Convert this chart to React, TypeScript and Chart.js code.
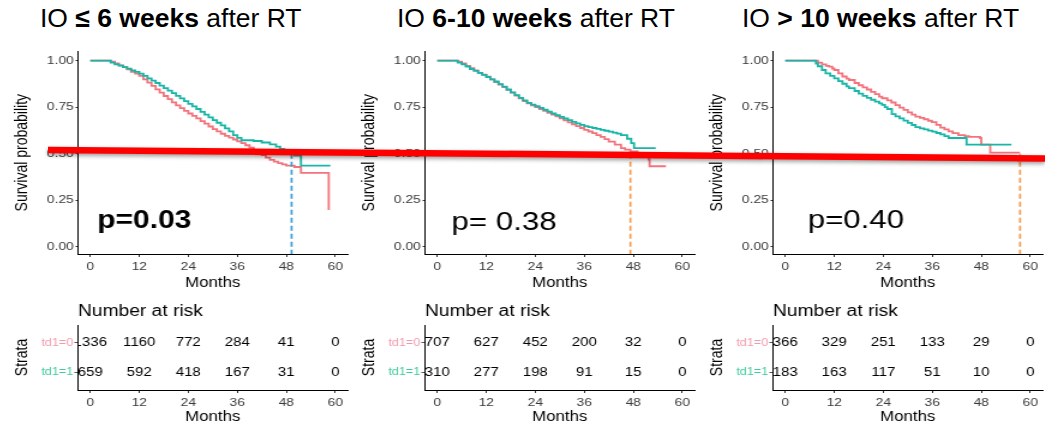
import { useEffect, useRef } from "react";
import { Chart, registerables } from "chart.js";

Chart.register(...registerables);

// ---------------- data ----------------
const monthTicks = [0, 12, 24, 36, 48, 60];
const survivalTicks = [0, 0.25, 0.5, 0.75, 1];
const strataLabels = ["td1=0", "td1=1"];

// IO ≤ 6 weeks after RT
const earlyMonths0 = [0, 4, 5, 6, 7, 8, 9, 10, 11, 12, 13, 14, 15, 16, 17, 18, 19, 20, 21, 22, 23, 24, 25, 26, 27, 28, 29, 30, 31, 32, 33, 34, 35, 36, 37, 38, 39, 40, 41, 42, 43, 44, 45, 46, 47, 48, 50, 51.6, 58.4];
const earlySurv0 = [1, 1, 0.995, 0.985, 0.975, 0.965, 0.953, 0.94, 0.93, 0.918, 0.9, 0.882, 0.864, 0.846, 0.828, 0.81, 0.793, 0.776, 0.76, 0.745, 0.73, 0.716, 0.703, 0.69, 0.675, 0.661, 0.646, 0.632, 0.62, 0.607, 0.596, 0.586, 0.576, 0.566, 0.556, 0.545, 0.532, 0.518, 0.505, 0.492, 0.479, 0.466, 0.457, 0.449, 0.442, 0.436, 0.428, 0.396, 0.197];
const earlyMonths1 = [0, 4, 5, 6, 7, 8, 9, 10, 11, 12, 13, 14, 15, 16, 17, 18, 19, 20, 21, 22, 23, 24, 25, 26, 27, 28, 29, 30, 31, 32, 33, 34, 35, 36, 37, 40, 42, 44, 45.5, 46.5, 47.5, 48.5, 50, 51.6, 58.8];
const earlySurv1 = [1, 1, 0.99, 0.98, 0.973, 0.965, 0.957, 0.948, 0.94, 0.93, 0.918, 0.905, 0.893, 0.88, 0.866, 0.852, 0.839, 0.826, 0.811, 0.797, 0.782, 0.768, 0.754, 0.74, 0.725, 0.71, 0.695, 0.68, 0.666, 0.652, 0.636, 0.62, 0.6, 0.585, 0.572, 0.568, 0.56, 0.55, 0.538, 0.525, 0.51, 0.498, 0.49, 0.436, 0.436];
const earlyRisk0 = [1336, 1160, 772, 284, 41, 0];
const earlyRisk1 = [659, 592, 418, 167, 31, 0];

// IO 6-10 weeks after RT
const midMonths0 = [0, 4.5, 5, 6, 7, 8, 9, 10, 11, 12, 13, 14, 15, 16, 17, 18, 19, 20, 21, 22, 23, 24, 25, 26, 27, 28, 29, 30, 31, 32, 33, 34, 35, 36, 37, 38, 39, 40, 41, 42, 43.5, 45, 46, 47.3, 49, 50, 51.8, 52, 56];
const midSurv0 = [1, 1, 0.995, 0.985, 0.972, 0.96, 0.948, 0.935, 0.925, 0.914, 0.9, 0.885, 0.872, 0.858, 0.843, 0.828, 0.812, 0.797, 0.783, 0.77, 0.76, 0.75, 0.74, 0.73, 0.72, 0.71, 0.7, 0.69, 0.679, 0.668, 0.658, 0.648, 0.638, 0.628, 0.619, 0.61, 0.6, 0.59, 0.578, 0.565, 0.548, 0.53, 0.522, 0.512, 0.495, 0.485, 0.468, 0.432, 0.432];
const midMonths1 = [0, 4, 5, 6, 7, 8, 9, 10, 11, 12, 13, 14, 15, 16, 17, 18, 19, 20, 21, 22, 23, 24, 25, 26, 27, 28, 29, 30, 31, 32, 33, 34, 35, 36, 37, 38, 39, 40, 41, 42, 43, 44, 45, 46.5, 47.5, 48.2, 53.5];
const midSurv1 = [1, 1, 0.99, 0.98, 0.968, 0.955, 0.945, 0.935, 0.924, 0.912, 0.9, 0.888, 0.874, 0.86, 0.845, 0.83, 0.815, 0.8, 0.786, 0.773, 0.764, 0.755, 0.746, 0.736, 0.726, 0.716, 0.707, 0.698, 0.689, 0.68, 0.671, 0.663, 0.655, 0.648, 0.643, 0.638, 0.633, 0.628, 0.623, 0.618, 0.613, 0.608, 0.6, 0.58, 0.557, 0.53, 0.53];
const midRisk0 = [707, 627, 452, 200, 32, 0];
const midRisk1 = [310, 277, 198, 91, 15, 0];

// IO > 10 weeks after RT
const lateMonths0 = [0, 6.7, 8, 9, 10, 10.7, 11.5, 12, 13, 14, 15, 15.6, 17, 18, 19, 20, 21, 22, 23, 23.7, 25, 26, 27, 28, 29, 30, 31, 31.9, 33, 34, 35, 35.9, 37, 38, 39, 40, 41, 42.4, 44, 45, 47.7, 48, 50.2, 57.5];
const lateSurv0 = [1, 1, 0.99, 0.98, 0.972, 0.968, 0.958, 0.95, 0.932, 0.915, 0.903, 0.896, 0.88, 0.868, 0.856, 0.845, 0.832, 0.82, 0.807, 0.798, 0.786, 0.775, 0.761, 0.748, 0.735, 0.722, 0.71, 0.699, 0.692, 0.685, 0.677, 0.67, 0.655, 0.64, 0.63, 0.62, 0.61, 0.6, 0.594, 0.59, 0.584, 0.548, 0.505, 0.505];
const lateMonths1 = [0, 6.7, 7.5, 8, 9, 9.9, 11, 12, 13, 14, 15, 15.6, 17, 18, 19, 20, 21, 22, 23, 23.7, 24.4, 25, 26.1, 27, 28, 29, 30, 31, 31.9, 33, 34, 35, 36, 37, 38, 39, 40, 44.4, 55.4];
const lateSurv1 = [1, 1, 0.985, 0.97, 0.95, 0.932, 0.918, 0.905, 0.89, 0.876, 0.862, 0.852, 0.837, 0.823, 0.811, 0.8, 0.79, 0.78, 0.77, 0.762, 0.75, 0.74, 0.712, 0.7, 0.69, 0.678, 0.665, 0.654, 0.643, 0.636, 0.63, 0.624, 0.618, 0.611, 0.604, 0.594, 0.584, 0.548, 0.548];
const lateRisk0 = [366, 329, 251, 133, 29, 0];
const lateRisk1 = [183, 163, 117, 51, 10, 0];

const medianMonths = [49.3, 47.3, 57.5];
const pValueLabels = ["p=0.03", "p= 0.38", "p=0.40"];

// ---------------- styling / layout ----------------
const FONT = "'Liberation Sans', Arial, Helvetica, sans-serif";
const RED = "#F3737C";
const TEAL = "#17B6A7";
const RED_LABEL = "#F49AAE";
const TEAL_LABEL = "#3FCB9C";
const TICK_TEXT = "#3A3A3A";

const SX = 1.2; // horizontal stretch applied to the plot canvases
const GUTTER = 75; // space left of each y axis (final px)
const CANVAS_W = 350; // final width of each plot canvas
const PLOT_W = 269.5; // final width of each plot panel
const INNER_W = Math.round(CANVAS_W / SX);
const Y_AXIS_W = GUTTER / SX;
const RIGHT_PAD = INNER_W - Y_AXIS_W - PLOT_W / SX;

const X_MIN = -3;
const X_MAX = 63;
const Y_MIN = -0.04;
const Y_MAX = 1.05;

const KM_TOP = 40;
const KM_H = 260;
const KM_PLOT_TOP = 51.4;
const KM_PLOT_BOTTOM = 254;

const RISK_TOP = 295;
const RISK_H = 132;
const RISK_PLOT_TOP = 325;
const RISK_PLOT_BOTTOM = 390;

const panels = [
  {
    title: ["IO ", "≤ 6 weeks", " after RT"],
    titleLeft: 40,
    axisX: 78,
    months0: earlyMonths0, surv0: earlySurv0,
    months1: earlyMonths1, surv1: earlySurv1,
    risk0: earlyRisk0, risk1: earlyRisk1,
    median: medianMonths[0], dashColor: "#3D9ED2",
    pText: pValueLabels[0], pBold: true, pSize: 25, pAt: { x: 1.7, y: 0.099 },
  },
  {
    title: ["IO ", "6-10 weeks", " after RT"],
    titleLeft: 397,
    axisX: 425,
    months0: midMonths0, surv0: midSurv0,
    months1: midMonths1, surv1: midSurv1,
    risk0: midRisk0, risk1: midRisk1,
    median: medianMonths[1], dashColor: "#F39A48",
    pText: pValueLabels[1], pBold: false, pSize: 26, pAt: { x: 3.5, y: 0.09 },
  },
  {
    title: ["IO ", "> 10 weeks", " after RT"],
    titleLeft: 742,
    axisX: 773,
    months0: lateMonths0, surv0: lateSurv0,
    months1: lateMonths1, surv1: lateSurv1,
    risk0: lateRisk0, risk1: lateRisk1,
    median: medianMonths[2], dashColor: "#F39A48",
    pText: pValueLabels[2], pBold: false, pSize: 26, pAt: { x: 5.5, y: 0.1 },
  },
];

Chart.defaults.font.family = FONT;

type Panel = (typeof panels)[number];

const toPoints = (m: number[], s: number[]) => m.map((t, i) => ({ x: t, y: s[i] }));

function monthScale(height: number, tickPad: number, titleBottom: number) {
  return {
    type: "linear" as const,
    min: X_MIN,
    max: X_MAX,
    afterBuildTicks: (s: any) => {
      s.ticks = monthTicks.map((v) => ({ value: v }));
    },
    afterFit: (s: any) => {
      s.height = height;
    },
    grid: { display: true, drawOnChartArea: false, drawTicks: true, tickLength: 3, color: "#333" },
    border: { display: true, color: "#000", width: 1 },
    ticks: { color: TICK_TEXT, font: { size: 11.5 }, padding: tickPad, maxRotation: 0, autoSkip: false },
    title: { display: true, text: "Months", color: "#000", font: { size: 14 }, padding: { top: 0, bottom: titleBottom } },
  };
}

function kmConfig(p: Panel): any {
  const pLabel = {
    id: "pValue",
    afterDatasetsDraw(chart: any) {
      const { ctx, scales } = chart;
      ctx.save();
      ctx.font = `${p.pBold ? "bold " : ""}${p.pSize}px ${FONT}`;
      ctx.fillStyle = "#000";
      ctx.textAlign = "left";
      ctx.textBaseline = "alphabetic";
      ctx.fillText(p.pText, scales.x.getPixelForValue(p.pAt.x), scales.y.getPixelForValue(p.pAt.y));
      ctx.restore();
    },
  };
  return {
    type: "line",
    data: {
      datasets: [
        {
          data: [
            { x: p.median, y: 0.5 },
            { x: p.median, y: Y_MIN },
          ],
          borderColor: p.dashColor,
          borderDash: [5, 3],
          borderWidth: 1.7,
          pointRadius: 0,
          fill: false,
        },
        { data: toPoints(p.months1, p.surv1), borderColor: TEAL, borderWidth: 1.8, stepped: "before", pointRadius: 0, fill: false },
        { data: toPoints(p.months0, p.surv0), borderColor: RED, borderWidth: 1.8, stepped: "before", pointRadius: 0, fill: false },
      ],
    },
    options: {
      responsive: false,
      animation: false,
      events: [],
      layout: { padding: { left: 0, right: RIGHT_PAD, top: KM_PLOT_TOP - KM_TOP, bottom: 0 } },
      plugins: { legend: { display: false }, tooltip: { enabled: false } },
      scales: {
        x: monthScale(KM_TOP + KM_H - KM_PLOT_BOTTOM, 3.2, 8.9),
        y: {
          type: "linear",
          min: Y_MIN,
          max: Y_MAX,
          afterBuildTicks: (s: any) => {
            s.ticks = survivalTicks.map((v) => ({ value: v }));
          },
          afterFit: (s: any) => {
            s.width = Y_AXIS_W;
          },
          grid: { display: true, drawOnChartArea: false, drawTicks: true, tickLength: 2, color: "#333" },
          border: { display: true, color: "#000", width: 1 },
          ticks: { color: TICK_TEXT, font: { size: 11.5 }, padding: 1.5, callback: (v: any) => Number(v).toFixed(2) },
          title: { display: true, text: "Survival probability", color: "#000", font: { size: 14 }, padding: { top: 7.85, bottom: 0 } },
        },
      },
    },
    plugins: [pLabel],
  };
}

function riskConfig(p: Panel): any {
  const table = {
    id: "riskTable",
    afterDatasetsDraw(chart: any) {
      const { ctx, chartArea, scales } = chart;
      ctx.save();
      ctx.fillStyle = "#000";
      ctx.font = `16px ${FONT}`;
      ctx.textAlign = "left";
      ctx.textBaseline = "alphabetic";
      ctx.fillText("Number at risk", chartArea.left, 21);
      ctx.beginPath();
      ctx.rect(chartArea.left, chartArea.top, chartArea.right - chartArea.left, chartArea.bottom - chartArea.top);
      ctx.clip();
      ctx.font = `12.5px ${FONT}`;
      ctx.textAlign = "center";
      ctx.textBaseline = "middle";
      [p.risk0, p.risk1].forEach((row, r) => {
        const y = scales.y.getPixelForValue(2 - r);
        row.forEach((n, i) => {
          ctx.fillText(String(n), scales.x.getPixelForValue(monthTicks[i]), y);
        });
      });
      ctx.restore();
    },
  };
  return {
    type: "line",
    data: { datasets: [] },
    options: {
      responsive: false,
      animation: false,
      events: [],
      layout: { padding: { left: 0, right: RIGHT_PAD, top: RISK_PLOT_TOP - RISK_TOP, bottom: 0 } },
      plugins: { legend: { display: false }, tooltip: { enabled: false } },
      scales: {
        x: monthScale(RISK_TOP + RISK_H - RISK_PLOT_BOTTOM, 2.5, 1.6),
        y: {
          type: "linear",
          min: 0.4,
          max: 2.6,
          afterBuildTicks: (s: any) => {
            s.ticks = [{ value: 1 }, { value: 2 }];
          },
          afterFit: (s: any) => {
            s.width = Y_AXIS_W;
          },
          grid: { display: true, drawOnChartArea: false, drawTicks: true, tickLength: 3, color: "#555" },
          border: { display: true, color: "#000", width: 1 },
          ticks: {
            font: { size: 10.5 },
            padding: 1,
            color: (c: any) => (c.tick && c.tick.value === 2 ? RED_LABEL : TEAL_LABEL),
            callback: (v: any) => (Number(v) === 2 ? strataLabels[0] : strataLabels[1]),
          },
          title: { display: true, text: "Strata", color: "#000", font: { size: 14 }, padding: { top: 7.85, bottom: 0 } },
        },
      },
    },
    plugins: [table],
  };
}

function StretchedChart({ left, top, height, config }: { left: number; top: number; height: number; config: any }) {
  const ref = useRef<HTMLCanvasElement>(null);
  useEffect(() => {
    const chart = new Chart(ref.current as HTMLCanvasElement, config);
    return () => chart.destroy();
  }, []);
  return (
    <div
      style={{
        position: "absolute",
        left,
        top,
        width: INNER_W,
        height,
        transform: `scaleX(${SX})`,
        transformOrigin: "0 0",
      }}
    >
      <canvas ref={ref} width={INNER_W} height={height} style={{ display: "block" }} />
    </div>
  );
}

export default function App() {
  return (
    <div
      style={{
        position: "absolute",
        left: 0,
        top: 0,
        width: 1045,
        height: 427,
        overflow: "hidden",
        background: "#fff",
        fontFamily: FONT,
      }}
    >
      {panels.map((p, i) => (
        <div key={i}>
          <StretchedChart left={p.axisX - GUTTER} top={KM_TOP} height={KM_H} config={kmConfig(p)} />
          <StretchedChart left={p.axisX - GUTTER} top={RISK_TOP} height={RISK_H} config={riskConfig(p)} />
          <div
            style={{
              position: "absolute",
              left: p.titleLeft,
              top: 5,
              fontSize: 26.5,
              lineHeight: "26px",
              whiteSpace: "nowrap",
              color: "#000",
            }}
          >
            {p.title[0]}
            <b>{p.title[1]}</b>
            {p.title[2]}
          </div>
        </div>
      ))}
      <svg
        width={1045}
        height={427}
        style={{ position: "absolute", left: 0, top: 0, pointerEvents: "none" }}
      >
        <line
          x1={48}
          y1={150}
          x2={1045}
          y2={158.5}
          stroke="#FF0000"
          strokeWidth={6.5}
          style={{ filter: "drop-shadow(0px 2.5px 2px rgba(0,0,0,0.4))" }}
        />
      </svg>
    </div>
  );
}
